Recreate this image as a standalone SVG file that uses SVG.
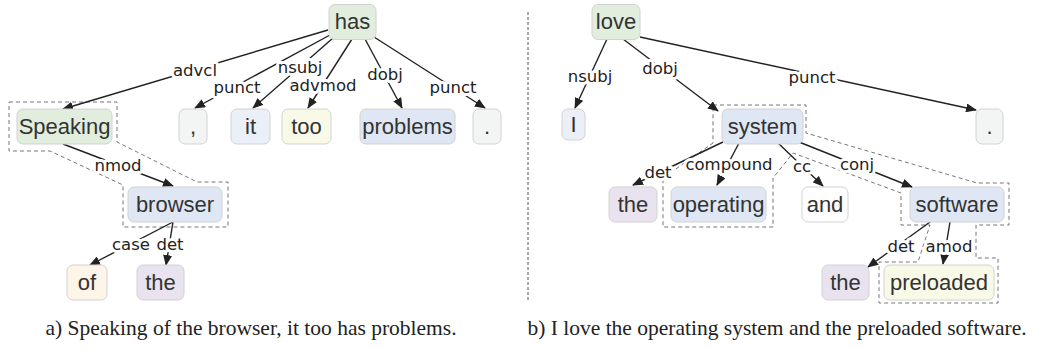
<svg xmlns="http://www.w3.org/2000/svg" width="1037" height="349" viewBox="0 0 1037 349">
<style>
.n rect{stroke:#d2d2d2;stroke-width:1;}
.n text{font-family:"Liberation Sans",Arial,sans-serif;font-size:22px;fill:#333;text-anchor:middle;}
.g{fill:#e2eedd;}
.b{fill:#dfe7f4;}
.lb{fill:#eaeff8;}
.y{fill:#f8f9e6;}
.gr{fill:#f3f5f5;}
.o{fill:#fdf5e8;}
.p{fill:#e8e3ef;}
.w{fill:#ffffff;}
.e line{stroke:#222;stroke-width:1.4;marker-end:url(#ah);}
.e text{font-family:"DejaVu Sans",sans-serif;font-size:16.5px;fill:#222;text-anchor:middle;stroke:#fff;stroke-width:6;stroke-linejoin:round;paint-order:stroke;}
.h{fill:none;stroke:#777;stroke-width:1;stroke-dasharray:4 3;}
.cap{font-family:"Liberation Serif","Times New Roman",serif;font-size:21.5px;fill:#222;text-anchor:middle;}
</style>
<defs>
<marker id="ah" markerWidth="11" markerHeight="9" refX="10" refY="4.5" orient="auto" markerUnits="userSpaceOnUse">
<path d="M0,0 L11,4.5 L0,9 z" fill="#222"/>
</marker>
</defs>

<g id="hulls">
<path class="h" d="M9,102 H117 V142 L197,182 H228 V227 H123 V185 L50,151 H9 Z"/>
<path class="h" d="M713,105 H806 V133 L977,183 H1009 V225 H976 V258 H998 V303 H879 V262 H918 L930,225 H901 V193 L793,153 L773,178 V227 H663 V178 L713,143 Z"/>
</g>

<g id="edges" class="e">
<line x1="328" y1="30" x2="63" y2="109"/>
<line x1="330" y1="35" x2="195" y2="108"/>
<line x1="333" y1="38" x2="253" y2="108"/>
<line x1="352" y1="39" x2="308" y2="108"/>
<line x1="365" y1="39" x2="402" y2="108"/>
<line x1="374" y1="37" x2="485" y2="108"/>
<line x1="63" y1="144" x2="173" y2="186"/>
<line x1="173" y1="222" x2="90" y2="265"/>
<line x1="173" y1="222" x2="166" y2="265"/>
<line x1="607" y1="39" x2="575" y2="108"/>
<line x1="623" y1="39" x2="718" y2="111"/>
<line x1="640" y1="37" x2="976" y2="110"/>
<line x1="723" y1="142" x2="633" y2="185"/>
<line x1="739" y1="143" x2="717" y2="185"/>
<line x1="778" y1="143" x2="823" y2="186"/>
<line x1="799" y1="142" x2="912" y2="187"/>
<line x1="930" y1="222" x2="868" y2="267"/>
<line x1="950" y1="222" x2="943" y2="264"/>
<text x="195" y="76">advcl</text>
<text x="237" y="93">punct</text>
<text x="300" y="72.5">nsubj</text>
<text x="323" y="91">advmod</text>
<text x="385" y="80">dobj</text>
<text x="453" y="93">punct</text>
<text x="118" y="171">nmod</text>
<text x="131" y="250">case</text>
<text x="170" y="250">det</text>
<text x="590" y="82">nsubj</text>
<text x="660" y="74">dobj</text>
<text x="812" y="83">punct</text>
<text x="658" y="178">det</text>
<text x="729" y="170">compound</text>
<text x="802" y="172">cc</text>
<text x="857" y="170">conj</text>
<text x="901" y="252">det</text>
<text x="949" y="252">amod</text>
</g>

<g id="n-has" class="n"><rect class="g" x="329" y="4.5" width="47" height="35" rx="6"/><text x="352.5" y="29">has</text></g>
<g id="n-speaking" class="n"><rect class="g" x="17" y="109" width="95" height="35" rx="6"/><text x="64.5" y="133.5">Speaking</text></g>
<g id="n-comma" class="n"><rect class="gr" x="179" y="109" width="28" height="35" rx="6"/><text x="193" y="133.5">,</text></g>
<g id="n-it" class="n"><rect class="lb" x="231" y="109" width="39" height="35" rx="6"/><text x="250.5" y="133.5">it</text></g>
<g id="n-too" class="n"><rect class="y" x="282" y="109" width="49" height="35" rx="6"/><text x="306.5" y="133.5">too</text></g>
<g id="n-problems" class="n"><rect class="b" x="360" y="109" width="95" height="35" rx="6"/><text x="407.5" y="133.5">problems</text></g>
<g id="n-period-a" class="n"><rect class="gr" x="473" y="109" width="28" height="35" rx="6"/><text x="487" y="133.5">.</text></g>
<g id="n-browser" class="n"><rect class="b" x="128" y="187" width="94" height="35" rx="6"/><text x="175" y="211.5">browser</text></g>
<g id="n-of" class="n"><rect class="o" x="67" y="265" width="40" height="35" rx="6"/><text x="87" y="289.5">of</text></g>
<g id="n-the-a" class="n"><rect class="p" x="137" y="265" width="47" height="35" rx="6"/><text x="160.5" y="289.5">the</text></g>

<g id="n-love" class="n"><rect class="g" x="592" y="4.5" width="48" height="35" rx="6"/><text x="616" y="29">love</text></g>
<g id="n-i" class="n"><rect class="lb" x="562" y="109" width="23" height="31" rx="6"/><text x="573.5" y="132">I</text></g>
<g id="n-system" class="n"><rect class="b" x="722" y="109" width="81" height="35" rx="6"/><text x="762.5" y="133.5">system</text></g>
<g id="n-period-b" class="n"><rect class="gr" x="976" y="109" width="27" height="35" rx="6"/><text x="989.5" y="133.5">.</text></g>
<g id="n-the-b1" class="n"><rect class="p" x="609" y="187" width="48" height="35" rx="6"/><text x="633" y="211.5">the</text></g>
<g id="n-operating" class="n"><rect class="b" x="671" y="187" width="95" height="35" rx="6"/><text x="718.5" y="211.5">operating</text></g>
<g id="n-and" class="n"><rect class="w" x="802" y="187" width="46" height="35" rx="6"/><text x="825" y="211.5">and</text></g>
<g id="n-software" class="n"><rect class="b" x="910" y="187" width="94" height="35" rx="6"/><text x="957" y="211.5">software</text></g>
<g id="n-the-b2" class="n"><rect class="p" x="822" y="265" width="47" height="35" rx="6"/><text x="845.5" y="289.5">the</text></g>
<g id="n-preloaded" class="n"><rect class="y" x="884" y="265" width="110" height="35" rx="6"/><text x="939" y="289.5">preloaded</text></g>

<line x1="528" y1="12" x2="528" y2="300" stroke="#555" stroke-width="1" stroke-dasharray="3 2"/>
<text class="cap" x="251" y="335">a) Speaking of the browser, it too has problems.</text>
<text class="cap" x="777" y="335">b) I love the operating system and the preloaded software.</text>
</svg>
